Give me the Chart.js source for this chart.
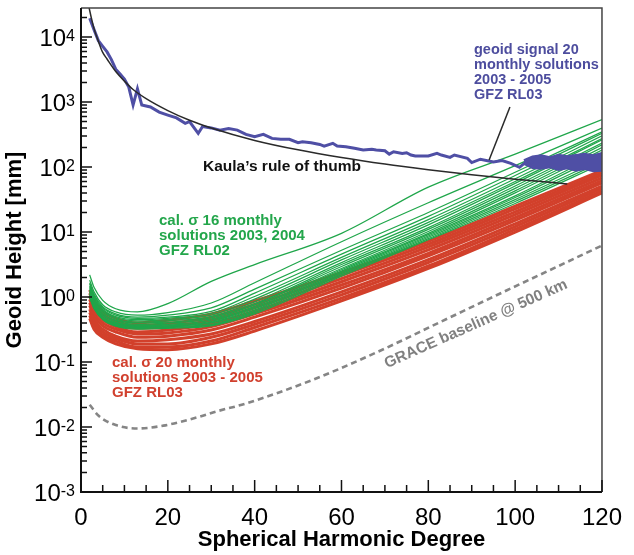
<!DOCTYPE html>
<html>
<head>
<meta charset="utf-8">
<script src="https://cdn.jsdelivr.net/npm/chart.js@4"></script>
<style>
  html, body { margin: 0; padding: 0; background: #fff; }
  #chart { display: block; }
</style>
</head>
<body>
<canvas id="chart" width="634" height="555"></canvas>
<script>
/* ── DATA ───────────────────────────────────────────────── */
const calDeg = [2, 3, 5, 8, 13, 20, 30, 40, 60, 80, 100, 120];

// calibrated sigma, 20 monthly solutions GFZ RL03 (red band)
const redSigma = [
    [1.29, 0.87, 0.60, 0.47, 0.40, 0.44, 0.55, 0.87, 2.4, 7.2, 25, 89],
    [1.15, 0.78, 0.55, 0.42, 0.36, 0.39, 0.49, 0.77, 2.15, 6.5, 22.7, 81],
    [1.03, 0.70, 0.49, 0.38, 0.33, 0.35, 0.44, 0.69, 1.92, 5.9, 20.5, 75],
    [0.92, 0.63, 0.45, 0.35, 0.29, 0.31, 0.39, 0.61, 1.72, 5.3, 18.5, 68],
    [0.82, 0.56, 0.40, 0.32, 0.27, 0.28, 0.35, 0.55, 1.53, 4.7, 16.7, 62],
    [0.74, 0.50, 0.36, 0.29, 0.24, 0.25, 0.31, 0.49, 1.37, 4.3, 15.1, 57],
    [0.65, 0.44, 0.32, 0.25, 0.21, 0.22, 0.27, 0.42, 1.2, 3.75, 13.4, 51],
    [0.58, 0.40, 0.29, 0.23, 0.19, 0.19, 0.24, 0.38, 1.08, 3.4, 12.1, 47],
    [0.52, 0.36, 0.26, 0.21, 0.17, 0.17, 0.21, 0.34, 0.96, 3.0, 11.0, 43],
    [0.47, 0.32, 0.24, 0.19, 0.16, 0.155, 0.19, 0.30, 0.87, 2.75, 10, 40],
];

// calibrated sigma, 16 monthly solutions GFZ RL02 (green)
const greenSigma = [
    [2.19, 1.41, 0.89, 0.66, 0.59, 0.79, 1.74, 3.16, 9.55, 49, 158, 537],
    [1.82, 1.20, 0.76, 0.59, 0.525, 0.575, 0.81, 1.66, 7.1, 28.2, 105, 398],
    [1.66, 1.10, 0.71, 0.55, 0.49, 0.525, 0.68, 1.32, 5.25, 20, 83, 347],
    [1.58, 1.05, 0.68, 0.525, 0.47, 0.49, 0.60, 1.15, 4.57, 17.4, 74, 331],
    [1.48, 1.0, 0.65, 0.50, 0.45, 0.47, 0.56, 1.02, 4.07, 15.5, 66, 302],
    [1.41, 0.955, 0.62, 0.48, 0.43, 0.45, 0.525, 0.93, 3.72, 14.1, 60, 275],
    [1.35, 0.91, 0.59, 0.46, 0.41, 0.43, 0.50, 0.85, 3.39, 12.9, 56, 263],
    [1.29, 0.87, 0.56, 0.44, 0.40, 0.41, 0.48, 0.79, 3.16, 11.7, 51, 234],
    [1.23, 0.83, 0.54, 0.43, 0.38, 0.40, 0.46, 0.76, 2.95, 11.0, 47, 219],
    [1.17, 0.79, 0.525, 0.41, 0.37, 0.38, 0.44, 0.72, 2.75, 10.2, 43, 200],
    [1.12, 0.76, 0.50, 0.40, 0.36, 0.37, 0.42, 0.69, 2.63, 9.55, 40, 182],
    [1.10, 0.74, 0.49, 0.39, 0.355, 0.36, 0.41, 0.66, 2.51, 9.1, 36, 166],
    [1.05, 0.71, 0.48, 0.38, 0.35, 0.355, 0.40, 0.63, 2.4, 8.7, 34, 151],
    [1.02, 0.69, 0.47, 0.37, 0.34, 0.35, 0.38, 0.60, 2.29, 8.3, 31.6, 132],
    [1.0, 0.68, 0.46, 0.36, 0.33, 0.34, 0.37, 0.575, 2.19, 7.9, 29.5, 120],
    [0.98, 0.66, 0.45, 0.355, 0.32, 0.33, 0.36, 0.55, 2.09, 7.6, 27.5, 112],
];

// geoid signal (blue)
const signalDeg = [2, 3, 4, 5, 6, 7, 8, 9, 10, 11, 12, 13, 14, 15, 16, 18, 20, 22, 24, 25,
    27, 28, 30, 32, 34, 36, 38, 40, 42, 44, 46, 48, 50, 51, 53, 55, 56, 58, 59, 61,
    63, 65, 67, 68, 70, 71, 72, 74, 75, 76, 77, 80, 82, 83, 85, 86, 89, 90, 92, 95,
    97, 99, 101, 103, 104];
const signalVal = [19500, 13000, 8800, 7200, 5900, 4500, 3200, 2700, 2250, 1700, 900, 1600, 900, 870, 840, 700, 630, 570, 470, 500,
    330, 420, 400, 370, 390, 370, 318, 292, 318, 276, 267, 267, 237, 245, 237, 223, 210, 232, 210, 205,
    194, 183, 187, 183, 178, 158, 172, 162, 166, 153, 148, 148, 162, 153, 141, 153, 136, 117, 132, 120,
    126, 114, 99, 128, 114];
// spread of the 20 signal solutions at high degree
const bandDeg = [102, 104, 106, 108, 110, 112, 114, 116, 118, 120];
const bandHi = [128, 145, 152, 142, 155, 147, 153, 160, 152, 165];
const bandLo = [112, 97, 94, 99, 90, 96, 88, 93, 86, 88];

// Kaula's rule of thumb
const kaulaDeg = [1.8, 2, 3, 4, 5, 6, 8, 10, 12, 15, 20, 25, 30, 40, 50, 60, 70, 80, 90, 100, 112];
const kaulaVal = [30000, 25600, 13500, 8600, 5800, 4600, 2950, 2100, 1560, 1130, 740, 525, 400, 257, 184, 140, 111, 91, 76, 65, 55];

// GRACE baseline @ 500 km (grey dashed)
const graceDeg = [2, 4, 8, 13, 19, 27, 31, 38, 53, 68, 83, 98, 110, 120];
const graceVal = [0.022, 0.015, 0.0107, 0.0095, 0.0105, 0.0142, 0.0172, 0.023, 0.052, 0.14, 0.42, 1.26, 3.0, 6.2];

// leader line from the signal label to the curve
const leaderDeg = [98.8, 94];
const leaderVal = [840, 128];

const yDecades = [-3, -2, -1, 0, 1, 2, 3, 4];

/* ── HELPERS ───────────────────────────────────────────── */
const FONT = "'Liberation Sans', Arial, Helvetica, sans-serif";
const xy = (d, v) => d.map((x, i) => ({ x, y: v[i] }));

const line = (data, color, width, order, extra = {}) => Object.assign({
    data, borderColor: color, borderWidth: width, pointRadius: 0,
    fill: false, order, tension: 0,
}, extra);

const datasets = [];
datasets.push(line(xy(graceDeg, graceVal), '#858585', 2.6, 9,
    { borderDash: [6, 4], cubicInterpolationMode: 'monotone' }));
redSigma.forEach(r => datasets.push(line(xy(calDeg, r), '#d2402b', 3, 8, { cubicInterpolationMode: 'monotone' })));
greenSigma.forEach(g => datasets.push(line(xy(calDeg, g), '#1fa64a', 1.25, 7, { cubicInterpolationMode: 'monotone' })));
datasets.push(line(xy(bandDeg, bandHi), '#4f4fa5', 2, 6, { fill: '+1', backgroundColor: '#4f4fa5' }));
datasets.push(line(xy(bandDeg, bandLo), '#4f4fa5', 2, 6));
datasets.push(line(xy(signalDeg, signalVal), '#4f4fa5', 3, 5));
datasets.push(line(xy(kaulaDeg, kaulaVal), '#2a2a2a', 1.5, 4, { cubicInterpolationMode: 'monotone' }));
datasets.push(line(xy(leaderDeg, leaderVal), '#2a2a2a', 1.5, 3));

/* ── TEXT NOTES ────────────────────────────────────────── */
const notes = [
    { lines: ['geoid signal 20', 'monthly solutions', '2003 - 2005', 'GFZ RL03'], x: 474, y: 54, color: '#4d4d9e', size: 14.5 },
    { lines: ['Kaula\u2019s rule of thumb'], x: 203, y: 171, color: '#111', size: 15.5 },
    { lines: ['cal. \u03c3 16 monthly', 'solutions 2003, 2004', 'GFZ RL02'], x: 159, y: 225, color: '#23a64b', size: 15 },
    { lines: ['cal. \u03c3 20 monthly', 'solutions 2003 - 2005', 'GFZ RL03'], x: 112, y: 367, color: '#d1402e', size: 15 },
];

const decorations = {
    id: 'decorations',
    afterDatasetsDraw(chart) {
        const { ctx, chartArea: a, scales: { x, y } } = chart;
        ctx.save();

        // frame
        ctx.strokeStyle = '#444';
        ctx.lineWidth = 1.5;
        ctx.beginPath();
        ctx.moveTo(a.left, a.top); ctx.lineTo(a.right, a.top); ctx.lineTo(a.right, a.bottom);
        ctx.stroke();
        ctx.strokeStyle = '#111';
        ctx.lineWidth = 2;
        ctx.beginPath();
        ctx.moveTo(a.left, a.top); ctx.lineTo(a.left, a.bottom); ctx.lineTo(a.right, a.bottom);
        ctx.stroke();

        // inward ticks
        ctx.lineWidth = 1.5;
        ctx.beginPath();
        yDecades.forEach(e => {
            for (let m = 1; m < 10; m++) {
                const v = m * Math.pow(10, e);
                if (v > y.max) break;
                const py = y.getPixelForValue(v);
                ctx.moveTo(a.left, py);
                ctx.lineTo(a.left + (m === 1 ? 11 : 6), py);
            }
        });
        for (let d = 0; d <= 120; d += 5) {
            const px = x.getPixelForValue(d);
            ctx.moveTo(px, a.bottom);
            ctx.lineTo(px, a.bottom - (d % 20 === 0 ? 12 : 7));
        }
        ctx.stroke();

        // y tick labels 10^n
        ctx.fillStyle = '#000';
        ctx.textBaseline = 'alphabetic';
        ctx.textAlign = 'right';
        yDecades.forEach(e => {
            const py = y.getPixelForValue(Math.pow(10, e));
            const exp = e < 0 ? '-' + (-e) : String(e);
            ctx.font = '16px ' + FONT;
            const w = ctx.measureText(exp).width;
            ctx.fillText(exp, 75, py + 3.5);
            ctx.font = '24px ' + FONT;
            ctx.fillText('10', 75 - w, py + 8.5);
        });

        // notes
        ctx.textAlign = 'left';
        notes.forEach(n => {
            ctx.fillStyle = n.color;
            ctx.font = 'bold ' + n.size + 'px ' + FONT;
            n.lines.forEach((t, i) => ctx.fillText(t, n.x, n.y + i * 15));
        });

        // rotated baseline label
        ctx.translate(476, 324);
        ctx.rotate(-24 * Math.PI / 180);
        ctx.fillStyle = '#808080';
        ctx.font = 'bold 15.5px ' + FONT;
        ctx.textAlign = 'center';
        ctx.textBaseline = 'middle';
        ctx.fillText('GRACE baseline @ 500 km', 0, 0);

        ctx.restore();
    }
};

/* ── CHART ─────────────────────────────────────────────── */
Chart.defaults.font.family = FONT;
Chart.defaults.color = '#000';

new Chart(document.getElementById('chart'), {
    type: 'line',
    data: { datasets },
    options: {
        responsive: false,
        animation: false,
        events: [],
        layout: { padding: { left: 0, right: 22, top: 8, bottom: 0 } },
        plugins: { legend: { display: false }, tooltip: { enabled: false } },
        scales: {
            x: {
                type: 'linear', min: 0, max: 120,
                grid: { display: false, drawTicks: false },
                border: { display: false },
                ticks: { stepSize: 20, padding: 12, font: { size: 24 }, color: '#000', maxRotation: 0 },
                title: { display: true, text: 'Spherical Harmonic Degree', font: { size: 22, weight: 'bold' }, padding: { top: 0, bottom: 2 } },
                afterFit: s => { s.height = 63; },
            },
            y: {
                type: 'logarithmic', min: 0.001, max: 28000,
                grid: { display: false, drawTicks: false },
                border: { display: false },
                ticks: { display: false },
                title: { display: true, text: 'Geoid Height [mm]', font: { size: 22, weight: 'bold' }, padding: { top: 2, bottom: 0 } },
                afterFit: s => { s.width = 81; },
            },
        },
    },
    plugins: [decorations],
});
</script>
</body>
</html>
